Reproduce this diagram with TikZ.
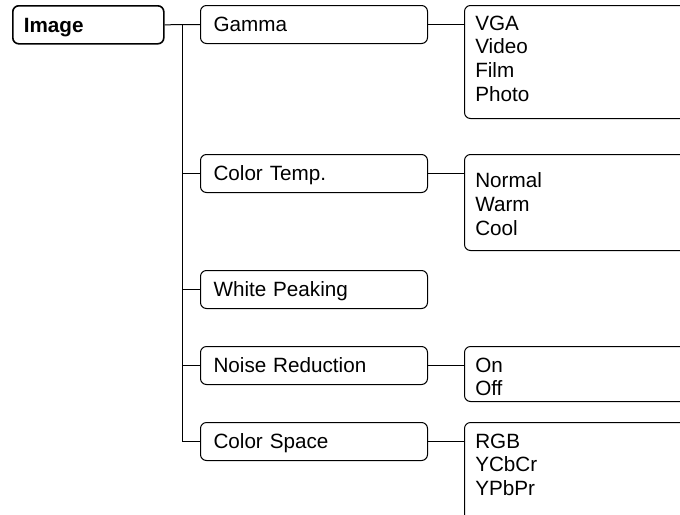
\documentclass[tikz,border=0pt]{standalone}
\usepackage{fontspec}
\setmainfont{Liberation Sans}
\begin{document}
\begin{tikzpicture}[x=0.75pt,y=-0.75pt,
  every node/.style={font=\fontsize{15.5pt}{17.7pt}\selectfont},
  menubox/.style={draw, rounded corners=4.5pt, line width=0.75pt, anchor=north west,
    minimum width=170.25pt, minimum height=28.5pt, inner xsep=9.75pt, inner ysep=0pt,
    text width=150.75pt, align=left, text height=11.1pt, text depth=0pt},
  rootbox/.style={menubox, line width=1.2pt, minimum width=113.25pt, text width=96.75pt,
    inner xsep=8.25pt, font=\fontsize{15.5pt}{17.7pt}\selectfont\bfseries},
  listbox/.style={draw, rounded corners=4.5pt, line width=0.75pt, anchor=north west,
    minimum width=195pt, inner sep=0pt},
  listtext/.style={anchor=north west, inner sep=0pt, align=left},
  link/.style={line width=0.75pt}
]
\useasboundingbox (0,0) rectangle (680,514);
\clip (0,0) rectangle (680,514);

\node[rootbox] (image) at (12,5) {Image};
\node[menubox] (gamma) at (200,5) {Gamma};
\node[menubox] (ctemp) at (200,154) {Color Temp.};
\node[menubox] (white) at (200,270) {White Peaking};
\node[menubox] (noise) at (200,346) {Noise Reduction};
\node[menubox] (cspace) at (200,422) {Color Space};

\node[listbox, minimum height=84.75pt] (gammalist) at (464,5) {};
\node[listbox, minimum height=72pt] (ctemplist) at (464,154) {};
\node[listbox, minimum height=41.25pt] (noiselist) at (464,346) {};
\node[listbox, minimum height=90pt] (cspacelist) at (464,422) {};

\node[listtext] (gammaitems) at (475,15.7) {VGA\\Video\\Film\\Photo};
\node[listtext] (ctempitems) at (475,172.6) {Normal\\Warm\\Cool};
\node[listtext] (noiseitems) at (475,357.6) {On\\Off};
\node[listtext] (cspaceitems) at (475,433.6) {RGB\\YCbCr\\YPbPr};

\coordinate (trunk) at (182,24);
\coordinate (trunkend) at (trunk |- cspace.west);
\draw[link] (image.east) -- (gamma.west);
\draw[link] (trunk) -- (trunkend);
\draw[link] (trunk |- ctemp.west) -- (ctemp.west);
\draw[link] (trunk |- white.west) -- (white.west);
\draw[link] (trunk |- noise.west) -- (noise.west);
\draw[link] (trunkend) -- (cspace.west);

\draw[link] (gamma.east) -- (gamma.east -| gammalist.west);
\draw[link] (ctemp.east) -- (ctemp.east -| ctemplist.west);
\draw[link] (noise.east) -- (noise.east -| noiselist.west);
\draw[link] (cspace.east) -- (cspace.east -| cspacelist.west);
\end{tikzpicture}
\end{document}
